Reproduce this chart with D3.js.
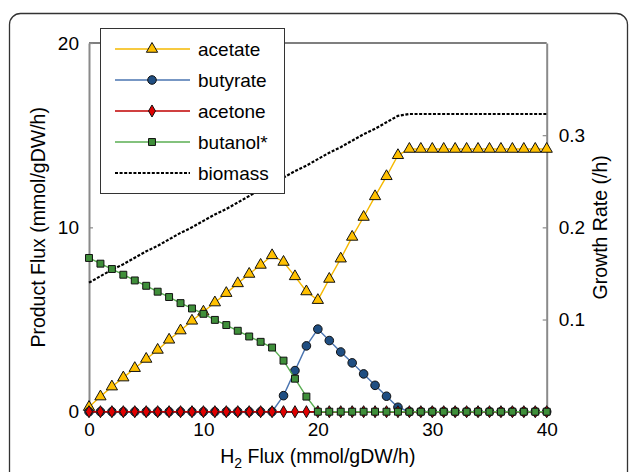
<!DOCTYPE html>
<html>
<head>
<meta charset="utf-8">
<script src="https://cdn.jsdelivr.net/npm/d3@7"></script>
<style>
	body { margin: 0; background: #fff; }
	text { font-family: Arial, "Liberation Sans", sans-serif; }
</style>
</head>
<body>
<div id="mainDiv"></div>
<script>
// H2 flux values (x axis)
const h2Flux = [0, 1, 2, 3, 4, 5, 6, 7, 8, 9, 10, 11, 12, 13, 14, 15, 16, 17, 18, 19, 20,
	21, 22, 23, 24, 25, 26, 27, 28, 29, 30, 31, 32, 33, 34, 35, 36, 37, 38, 39, 40];

// product fluxes (mmol/gDW/h)
const acetate = [0.25, 0.82, 1.36, 1.85, 2.36, 2.86, 3.35, 3.9, 4.4, 4.93, 5.42, 5.92, 6.43, 6.96, 7.47, 7.96, 8.48,
	8.12, 7.34, 6.52, 6.05, 7.2, 8.3, 9.48, 10.56, 11.68, 12.77, 13.91,
	14.25, 14.25, 14.25, 14.25, 14.25, 14.25, 14.25, 14.25, 14.25, 14.25, 14.25, 14.25, 14.25];
const butyrate = [0, 0, 0, 0, 0, 0, 0, 0, 0, 0, 0, 0, 0, 0, 0, 0, 0,
	0.87, 2.23, 3.57, 4.48, 3.86, 3.24, 2.65, 2.05, 1.43, 0.84, 0.24,
	0, 0, 0, 0, 0, 0, 0, 0, 0, 0, 0, 0, 0];
const acetone = [0, 0, 0, 0, 0, 0, 0, 0, 0, 0, 0, 0, 0, 0, 0, 0, 0, 0, 0, 0, 0,
	0, 0, 0, 0, 0, 0, 0, 0, 0, 0, 0, 0, 0, 0, 0, 0, 0, 0, 0, 0];
const butanol = [8.34, 8.03, 7.74, 7.43, 7.12, 6.83, 6.51, 6.22, 5.89, 5.6, 5.31, 4.98, 4.7, 4.39, 4.08, 3.79, 3.48,
	2.77, 1.79, 0.82, 0, 0, 0, 0, 0, 0, 0, 0, 0, 0, 0, 0, 0, 0, 0, 0, 0, 0, 0, 0, 0];

// growth rate (/h), right axis
const biomass = [0.140, 0.147, 0.154, 0.160, 0.167, 0.174, 0.180, 0.187, 0.194, 0.200, 0.207,
	0.214, 0.220, 0.227, 0.234, 0.241, 0.247, 0.254, 0.261, 0.267, 0.274,
	0.281, 0.287, 0.294, 0.301, 0.307, 0.314, 0.321, 0.323, 0.323, 0.323,
	0.323, 0.323, 0.323, 0.323, 0.323, 0.323, 0.323, 0.323, 0.323, 0.323];

// tick labels
const xTicks = [0, 10, 20, 30, 40];
const yTicks = [0, 10, 20];
const y2Ticks = [0.1, 0.2, 0.3];

const width = 629,
	height = 472;

let plot = { left: 89, right: 546.7, top: 43, bottom: 411.7 };

let svg = d3.select("#mainDiv").append("svg")
		.attr("width", width)
		.attr("height", height);

// figure frame (rounded, cut off at the bottom)
svg.append("rect")
	.attr("x", 9.5).attr("y", 13.5)
	.attr("width", 618).attr("height", 520)
	.attr("rx", 11).attr("ry", 11)
	.attr("fill", "none")
	.attr("stroke", "#333")
	.attr("stroke-width", 1.3);

let x = d3.scaleLinear().domain([0, 40]).range([plot.left, plot.right]);
let y = d3.scaleLinear().domain([0, 20]).range([plot.bottom, plot.top]);
let y2 = d3.scaleLinear().domain([0, 0.4]).range([plot.bottom, plot.top]);

// box top line
svg.append("line")
	.attr("x1", plot.left).attr("x2", plot.right)
	.attr("y1", plot.top).attr("y2", plot.top)
	.attr("stroke", "#000").attr("stroke-width", 1.2);

// axes
let axisColor = "#8a8a8a";

let yAxis = svg.append("g")
	.attr("transform", "translate(" + plot.left + ",0)")
	.call(d3.axisLeft(y).tickValues(yTicks).tickSizeInner(-4).tickSizeOuter(0).tickPadding(10));

let y2Axis = svg.append("g")
	.attr("transform", "translate(" + plot.right + ",0)")
	.call(d3.axisRight(y2).tickValues(y2Ticks).tickSizeInner(-4).tickSizeOuter(0).tickPadding(12)
		.tickFormat(d3.format(".1f")));

let xAxis = svg.append("g")
	.attr("transform", "translate(0," + plot.bottom + ")")
	.call(d3.axisBottom(x).tickValues(xTicks).tickSize(0).tickPadding(11));

[yAxis, y2Axis].forEach(function(a) {
	a.select(".domain").attr("stroke", axisColor).attr("stroke-width", 2);
	a.selectAll(".tick line").attr("stroke", axisColor).attr("stroke-width", 1.2);
});
xAxis.select(".domain").attr("stroke", "#000").attr("stroke-width", 1.2);

svg.selectAll(".tick text")
	.attr("fill", "#000")
	.style("font-size", "19px");

// axis titles
svg.append("text")
	.attr("transform", "translate(45," + (plot.top + plot.bottom) / 2 + ") rotate(-90)")
	.attr("text-anchor", "middle")
	.style("font-size", "19.5px")
	.text("Product Flux (mmol/gDW/h)");

svg.append("text")
	.attr("transform", "translate(607," + (plot.top + plot.bottom) / 2 + ") rotate(-90)")
	.attr("text-anchor", "middle")
	.style("font-size", "19.5px")
	.text("Growth Rate (/h)");

let xTitle = svg.append("text")
	.attr("x", (plot.left + plot.right) / 2)
	.attr("y", 463)
	.attr("text-anchor", "middle")
	.style("font-size", "19.5px");
xTitle.append("tspan").text("H");
xTitle.append("tspan").attr("dy", 5).style("font-size", "14px").text("2");
xTitle.append("tspan").attr("dy", -5).text(" Flux (mmol/gDW/h)");

// series definitions
let series = [
	{ name: "acetate", values: acetate, line: "#f5b800", fill: "#ffc000", symbol: d3.symbolTriangle, size: 55 },
	{ name: "butyrate", values: butyrate, line: "#4a74b0", fill: "#1f4e82", symbol: d3.symbolCircle, size: 58 },
	{ name: "acetone", values: acetone, line: "#c00000", fill: "#e00000", symbol: d3.symbolDiamond, size: 42 },
	{ name: "butanol*", values: butanol, line: "#5aae52", fill: "#3f8f3a", symbol: d3.symbolSquare, size: 48 }
];

// biomass dotted line (right axis)
let biomassLine = d3.line()
	.x(function(d, i) { return x(h2Flux[i]); })
	.y(function(d) { return y2(d); });

svg.append("path")
	.datum(biomass)
	.attr("d", biomassLine)
	.attr("fill", "none")
	.attr("stroke", "#000")
	.attr("stroke-width", 2.2)
	.attr("stroke-dasharray", "3,1.6");

let fluxLine = d3.line()
	.x(function(d, i) { return x(h2Flux[i]); })
	.y(function(d) { return y(d); });

series.forEach(function(s) {
	let g = svg.append("g").attr("class", "series");

	g.append("path")
		.datum(s.values)
		.attr("d", fluxLine)
		.attr("fill", "none")
		.attr("stroke", s.line)
		.attr("stroke-width", 1.4);

	g.selectAll(".marker")
		.data(s.values)
	.enter().append("path")
		.attr("class", "marker")
		.attr("transform", function(d, i) {
			return "translate(" + x(h2Flux[i]) + "," + y(d) + ")";
		})
		.attr("d", d3.symbol().type(s.symbol).size(s.size))
		.attr("fill", s.fill)
		.attr("stroke", "#111")
		.attr("stroke-width", 1);
});

// legend
let legend = svg.append("g").attr("transform", "translate(100,28)");

legend.append("rect")
	.attr("x", 0.5).attr("y", 0.5)
	.attr("width", 184).attr("height", 165)
	.attr("fill", "#fff")
	.attr("stroke", "#333")
	.attr("stroke-width", 1);

let legendItems = series.concat([{ name: "biomass", dotted: true }]);

let item = legend.selectAll(".item")
	.data(legendItems)
.enter().append("g")
	.attr("class", "item")
	.attr("transform", function(d, i) { return "translate(0," + (21 + i * 31) + ")"; });

item.append("line")
	.attr("x1", 15).attr("x2", 90)
	.attr("stroke", function(d) { return d.dotted ? "#000" : d.line; })
	.attr("stroke-width", function(d) { return d.dotted ? 2.2 : 1.4; })
	.attr("stroke-dasharray", function(d) { return d.dotted ? "3,1.6" : null; });

item.filter(function(d) { return !d.dotted; })
	.append("path")
	.attr("transform", "translate(52,0)")
	.attr("d", function(d) { return d3.symbol().type(d.symbol).size(d.size)(); })
	.attr("fill", function(d) { return d.fill; })
	.attr("stroke", "#111")
	.attr("stroke-width", 1);

item.append("text")
	.attr("x", 98)
	.attr("dy", "0.35em")
	.style("font-size", "19px")
	.text(function(d) { return d.name; });
</script>
</body>
</html>
